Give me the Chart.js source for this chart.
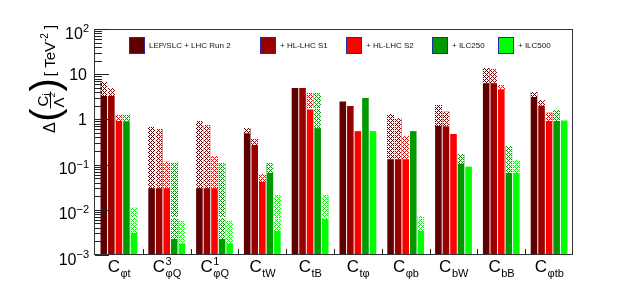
<!DOCTYPE html>
<html>
<head>
<meta charset="utf-8">
<script src="https://cdn.jsdelivr.net/npm/chart.js@4.4.0/dist/chart.umd.min.js"></script>
<style>
  html, body { margin: 0; padding: 0; background: #fff; }
</style>
</head>
<body>
<canvas id="grafica" width="630" height="300"></canvas>
<script>
// coeficientes (C con subindice / superindice)
const coefSub = ["φt", "φQ", "φQ", "tW", "tB", "tφ", "φb", "bW", "bB", "φtb"];
const coefSup = ["", "3", "1", "", "", "", "", "", "", ""];

const etiquetas = ["LEP/SLC + LHC Run 2", "+ HL-LHC S1", "+ HL-LHC S2", "+ ILC250", "+ ILC500"];
const colores = ["#600000", "#990000", "#ff0000", "#009900", "#00ff00"];

// altura total de cada barra (parte rayada incluida)
const lepTotal  = [6.7, 0.68, 0.92, 0.64, 4.95, 2.5, 1.32, 2.08, 13.7, 4.04];
const s1Total   = [4.95, 0.61, 0.75, 0.36, 4.95, 1.98, 1.06, 1.48, 13.0, 2.69];
const s2Total   = [1.25, 0.116, 0.155, 0.061, 3.84, 0.55, 0.43, 0.475, 5.77, 1.41];
const ilc250Total = [1.25, 0.108, 0.108, 0.108, 3.84, 2.97, 0.55, 0.172, 0.258, 1.61];
const ilc500Total = [0.0111, 0.00565, 0.0056, 0.0212, 0.021, 0.55, 0.0073, 0.09, 0.126, 0.94];

// parte solida
const lepSolido  = [3.3, 0.030, 0.030, 0.49, 4.95, 2.5, 0.131, 0.71, 6.3, 3.2];
const s1Solido   = [3.3, 0.030, 0.030, 0.275, 4.95, 1.98, 0.131, 0.70, 6.3, 1.98];
const s2Solido   = [0.92, 0.030, 0.030, 0.042, 1.67, 0.55, 0.131, 0.475, 4.6, 0.94];
const ilc250Solido = [0.9, 0.00226, 0.0023, 0.066, 0.64, 2.97, 0.55, 0.103, 0.066, 0.94];
const ilc500Solido = [0.00307, 0.0018, 0.0018, 0.0034, 0.0063, 0.55, 0.00345, 0.09, 0.065, 0.94];

// lineas blancas dentro de algunas barras
const s2Marca     = [null, null, null, null, 1.67, null, null, null, null, null];
const ilc250Marca = [null, 0.0066, 0.0066, null, 1.67, null, null, null, null, null];
const ilc500Marca = [0.0064, null, null, 0.0063, 0.0066, null, 0.0063, null, null, null];

const yTicks = [0.001, 0.01, 0.1, 1, 10, 100];

const totales = [lepTotal, s1Total, s2Total, ilc250Total, ilc500Total];
const solidos = [lepSolido, s1Solido, s2Solido, ilc250Solido, ilc500Solido];
const marcas  = [null, null, s2Marca, ilc250Marca, ilc500Marca];

const fam = '"Liberation Sans", Arial, Helvetica, sans-serif';
const yMin = 0.001;

const datasets = [];
etiquetas.forEach((lab, i) => {
    const tot = totales[i], sol = solidos[i];
    if (marcas[i]) {
        datasets.push({
            label: lab + " (marca)",
            stack: "s" + i,
            backgroundColor: "#ffffff",
            data: marcas[i].map(v => v ? [v, v * 1.06] : null)
        });
    }
    datasets.push({
        label: lab,
        stack: "s" + i,
        backgroundColor: colores[i],
        data: sol.map(v => [yMin, v])
    });
    datasets.push({
        label: lab + " (rayado)",
        stack: "s" + i,
        rayado: colores[i],
        backgroundColor: colores[i],
        data: tot.map((t, j) => t > sol[j] ? [sol[j], t] : null)
    });
});

function linea(ctx, x1, y1, x2, y2) {
    ctx.beginPath();
    ctx.moveTo(x1, y1);
    ctx.lineTo(x2, y2);
    ctx.stroke();
}

// parte rayada: color de la serie con cruces sobre blanco
const rayadoPlugin = {
    id: "rayado",
    afterDatasetsDraw(chart) {
        const ctx = chart.ctx;
        ctx.save();
        chart.data.datasets.forEach((ds, di) => {
            if (!ds.rayado) return;
            const meta = chart.getDatasetMeta(di);
            meta.data.forEach((el, j) => {
                if (ds.data[j] == null) return;
                const p = el.getProps(["x", "y", "base", "width"], true);
                const x0 = Math.round(p.x - p.width / 2), x1 = Math.round(p.x + p.width / 2);
                const y0 = Math.round(Math.min(p.y, p.base)), y1 = Math.round(Math.max(p.y, p.base));
                ctx.fillStyle = "#ffffff";
                ctx.fillRect(x0, y0, x1 - x0, y1 - y0);
                ctx.fillStyle = ds.rayado;
                for (let py = y0; py < y1; py++) {
                    for (let px = x0; px < x1; px++) {
                        if ((px + py) % 4 === 0 || (px - py + 400) % 4 === 0) ctx.fillRect(px, py, 1, 1);
                    }
                }
            });
        });
        // lineas blancas encima
        chart.data.datasets.forEach((ds, di) => {
            if (ds.backgroundColor !== "#ffffff") return;
            const meta = chart.getDatasetMeta(di);
            ctx.fillStyle = "#ffffff";
            meta.data.forEach((el, j) => {
                if (ds.data[j] == null) return;
                const p = el.getProps(["x", "y", "width"], true);
                ctx.fillRect(Math.round(p.x - p.width / 2), Math.round(p.y), Math.round(p.width), 1);
            });
        });
        ctx.restore();
    }
};

const marcoPlugin = {
    id: "marco",
    afterDraw(chart) {
        const ctx = chart.ctx;
        const a = chart.chartArea;
        const x = chart.scales.x, y = chart.scales.y;
        ctx.save();

        // marco
        ctx.strokeStyle = "#333";
        ctx.lineWidth = 1;
        ctx.strokeRect(Math.round(a.left) - 0.5, Math.round(a.top) + 0.5,
                       Math.round(a.right - a.left), Math.round(a.bottom - a.top) - 1);

        // ticks eje y
        ctx.strokeStyle = "#222";
        for (let k = -3; k <= 2; k++) {
            for (let m = 1; m <= 9; m++) {
                const v = m * Math.pow(10, k);
                if (v > 100.001) break;
                const py = Math.round(y.getPixelForValue(v)) + 0.5;
                linea(ctx, a.left, py, a.left + (m === 1 ? 14 : 7), py);
            }
        }

        // ticks eje x
        const w = (a.right - a.left) / coefSub.length;
        for (let i = 1; i < coefSub.length; i++) {
            const px = Math.round(a.left + i * w) + 0.5;
            linea(ctx, px, a.bottom, px, a.bottom - 6);
        }

        // etiquetas eje y
        ctx.fillStyle = "#000";
        ctx.textBaseline = "alphabetic";
        ctx.textAlign = "right";
        yTicks.forEach(v => {
            const e = Math.round(Math.log10(v));
            const py = y.getPixelForValue(v);
            if (e === 0 || e === 1) {
                ctx.font = "16px " + fam;
                ctx.fillText(e === 0 ? "1" : "10", 87, py + 6);
            } else {
                ctx.font = "11px " + fam;
                const sup = (e < 0 ? "\u2212" : "") + Math.abs(e);
                ctx.fillText(sup, 89, py + 3);
                const ws = ctx.measureText(sup).width;
                ctx.font = "16px " + fam;
                ctx.fillText("10", 89 - ws, py + 9.5);
            }
        });

        // etiquetas eje x
        ctx.textAlign = "left";
        coefSub.forEach((sub, i) => {
            const cx = x.getPixelForValue(i);
            ctx.font = "17px " + fam;
            const wc = ctx.measureText("C").width;
            ctx.font = "11px " + fam;
            const wsub = ctx.measureText(sub).width;
            const wsup = coefSup[i] ? ctx.measureText(coefSup[i]).width : 0;
            const x0 = cx - (wc + Math.max(wsub, wsup)) / 2;
            ctx.font = "17px " + fam;
            ctx.fillText("C", x0, 272);
            ctx.font = "11px " + fam;
            ctx.fillText(sub, x0 + wc + 0.5, 276.5);
            if (coefSup[i]) ctx.fillText(coefSup[i], x0 + wc + 0.5, 265);
        });

        // titulo eje y
        ctx.save();
        ctx.translate(55, 133);
        ctx.rotate(-Math.PI / 2);
        ctx.strokeStyle = "#000";
        let u = 0;
        ctx.font = "16px " + fam;
        ctx.fillText("Δ", u, 0);
        u += ctx.measureText("Δ").width + 0.5;
        ctx.font = "300 40px " + fam;
        ctx.fillText("(", u, 4);
        u += ctx.measureText("(").width;
        // fraccion
        ctx.font = "15px " + fam;
        const wC = ctx.measureText("C").width;
        const wL = ctx.measureText("Λ").width;
        ctx.font = "9px " + fam;
        const wi = ctx.measureText("i").width;
        const w2 = ctx.measureText("2").width;
        const wf = Math.max(wC + wi, wL + w2) + 2;
        ctx.font = "15px " + fam;
        ctx.fillText("C", u + (wf - wC - wi) / 2, -7.5);
        ctx.fillText("Λ", u + (wf - wL - w2) / 2, 8.5);
        ctx.font = "9px " + fam;
        ctx.fillText("i", u + (wf - wC - wi) / 2 + wC, -6);
        ctx.fillText("2", u + (wf - wL - w2) / 2 + wL, 0);
        linea(ctx, u, -4.5, u + wf, -4.5);
        u += wf;
        ctx.font = "300 40px " + fam;
        ctx.fillText(")", u, 4);
        u += ctx.measureText(")").width + 2;
        ctx.font = "15px " + fam;
        ctx.fillText("[ TeV", u, 0);
        u += ctx.measureText("[ TeV").width;
        ctx.font = "10px " + fam;
        ctx.fillText("-2", u, -7);
        u += ctx.measureText("-2").width;
        ctx.font = "15px " + fam;
        ctx.fillText(" ]", u, 0);
        ctx.restore();

        // leyenda
        const opts = chart.options.plugins.marco;
        ctx.font = "8px " + fam;
        ctx.textBaseline = "middle";
        etiquetas.forEach((lab, i) => {
            const bx = opts.legendX[i];
            ctx.fillStyle = colores[i];
            ctx.fillRect(bx, 37, 16, 17);
            ctx.strokeStyle = "#2a2aa0";
            ctx.strokeRect(bx + 0.5, 37.5, 15, 16);
            ctx.fillStyle = "#111";
            ctx.fillText(lab, bx + 20, 45.5);
        });
        ctx.restore();
    }
};

const grafica = new Chart("grafica", {
    type: "bar",
    data: { labels: coefSub, datasets: datasets },
    plugins: [rayadoPlugin, marcoPlugin],
    options: {
        responsive: false,
        animation: false,
        layout: { padding: { left: 95, right: 57, top: 29, bottom: 45 } },
        datasets: {
            bar: { categoryPercentage: 0.79, barPercentage: 0.87, borderWidth: 0 }
        },
        scales: {
            x: { display: false },
            y: { type: "logarithmic", display: false, min: yMin, max: 100, stacked: false }
        },
        plugins: {
            legend: { display: false },
            tooltip: { enabled: false },
            marco: { legendX: [129, 260, 346, 432, 498] }
        }
    }
});
</script>
</body>
</html>
